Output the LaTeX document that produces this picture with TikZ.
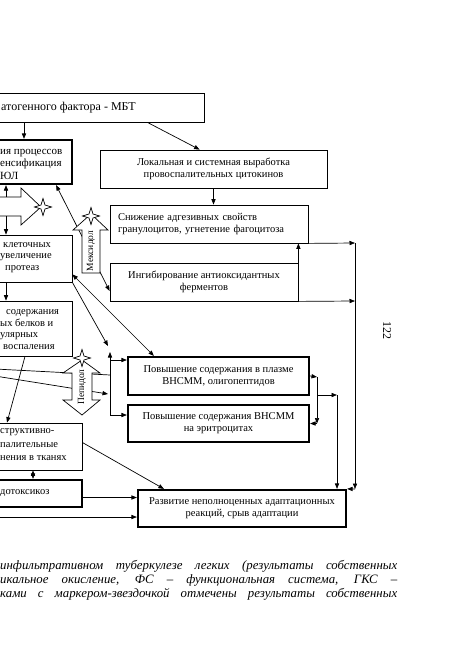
\documentclass[tikz,border=0pt]{standalone}
\usepackage{fontspec}
\setmainfont{Liberation Serif}
\usetikzlibrary{arrows.meta, calc, shapes.geometric}

\begin{document}
\begin{tikzpicture}[
  x=1pt, y=-1pt,
  font=\fontsize{10.5}{12}\selectfont,
  >={Triangle[length=5.5pt,width=4.2pt]},
  box/.style={draw, line width=0.8pt, inner sep=2pt, align=center},
  boldbox/.style={box, line width=2.2pt},
  frag/.style={anchor=west, inner sep=0pt, align=left},
  edge/.style={->, line width=0.7pt},
  dedge/.style={<->, line width=0.7pt},
  plain/.style={line width=0.7pt},
  drug/.style={draw, fill=white, line width=0.7pt},
  sparkle/.style={star, star points=4, star point ratio=3, draw, fill=white,
                  line width=0.7pt, minimum size=17pt, inner sep=0pt},
  drugname/.style={rotate=90, font=\fontsize{9.5}{10}\selectfont, inner sep=0pt},
  captext/.style={anchor=west, inner sep=0pt, font=\fontsize{12.8}{14}\selectfont\itshape},
]
\useasboundingbox (0,0) rectangle (460,650);
\clip (0,0) rectangle (460,650);

% boxes
\node[box, minimum width=264, minimum height=29] (top) at (72,107.5) {};
\node[frag, font=\fontsize{12}{14}\selectfont] (topt) at (1,107.5) {атогенного фактора - МБТ};
\node[boldbox, minimum width=132, minimum height=44] (pol) at (6,162) {};
\node[frag, font=\fontsize{11}{12.5}\selectfont] (polt) at (0,164) {ия процессов\\енсификация\\ЮЛ};
\node[box, minimum width=227, minimum height=38] (loc) at (213.5,169)
  {Локальная и системная выработка\\провоспалительных цитокинов};
\node[box, align=left, text width=182, inner xsep=8pt, minimum height=38] (adh) at (209,224)
  {Снижение адгезивных свойств\\гранулоцитов, угнетение фагоцитоза};
\node[box, minimum width=188, minimum height=38] (inh) at (204,282)
  {Ингибирование антиоксидантных\\ферментов};
\node[box, minimum width=132, minimum height=47] (cell) at (6,258.5) {};
\node[frag, font=\fontsize{10.5}{11.5}\selectfont] (cellt) at (0,257.5)
  {\hspace{3pt}клеточных\\увеличение\\\hspace{5pt}протеаз};
\node[box, minimum width=132, minimum height=55] (cont) at (6,328.5) {};
\node[frag, font=\fontsize{10.5}{11.7}\selectfont] (contt) at (0,329.5)
  {\hspace{6pt}содержания\\ых белков и\\улярных\\\hspace{3pt}воспаления};
\node[boldbox, minimum width=181, minimum height=38] (plasma) at (218.5,376)
  {Повышение содержания в плазме\\ВНСММ, олигопептидов};
\node[boldbox, minimum width=181, minimum height=37] (ery) at (218.5,423.5)
  {Повышение содержания ВНСММ\\на эритроцитах};
\node[box, minimum width=142, minimum height=47] (destr) at (11,446.5) {};
\node[frag, font=\fontsize{10.5}{13.5}\selectfont] (destrt) at (0,445)
  {структивно-\\палительные\\нения в тканях};
\node[boldbox, minimum width=142, minimum height=27] (endo) at (11,493.5) {};
\node[frag] (endot) at (0,493.5) {дотоксикоз};
\node[boldbox, minimum width=208, minimum height=37] (final) at (242,508.5)
  {Развитие неполноценных адаптационных\\реакций, срыв адаптации};

% named points
\coordinate (a1) at ($(pol.north)+(18,0)$);
\coordinate (a2) at ($(top.south east)+(-57,0)$);
\coordinate (a3) at ($(loc.north west)+(100,0)$);
\coordinate (R1) at (355,243);
\coordinate (R2) at (355,301);
\coordinate (R3) at (355,489);
\coordinate (M1) at (317,377);
\coordinate (M2) at (317,423.5);
\coordinate (M4) at (317,395);
\coordinate (M5) at (337,395);
\coordinate (cTop) at (110,352);
\coordinate (cP) at (110,360);
\coordinate (cBot) at (110,415);
\coordinate (cIn1) at (110,375);
\coordinate (cIn2) at (108,394);
\coordinate (cIn3) at (108,346);
\coordinate (in1) at (-5,369);
\coordinate (in2) at (-5,376);
\coordinate (pol1) at ($(pol.south east)+(-17,0)$);
\coordinate (inh1) at ($(inh.west)+(0,9)$);
\coordinate (cell1) at ($(cell.south east)+(0,-8)$);
\coordinate (pl1) at ($(plasma.north west)+(27,0)$);
\coordinate (ar1) at (6,197);
\coordinate (ar2) at (6,216);
\coordinate (d1) at ($(cont.south)+(19,0)$);
\coordinate (d2) at ($(destr.north)+(-4,0)$);
\coordinate (d3) at ($(destr.south)+(22,0)$);
\coordinate (d4) at ($(destr.east)+(0,-4)$);
\coordinate (f1) at ($(final.north west)+(27,0)$);
\coordinate (E1) at ($(endo.east)+(0,4)$);
\coordinate (E2) at (-5,517);

% connectors
\draw[edge] (a1 |- top.south) -- (a1);
\draw[edge] (a2) -- (a3);
\draw[edge] (loc.south) -- (loc.south |- adh.north);
\draw[edge] (adh.south east) -- (R1);
\draw[edge] (inh.south east) -- (R2);
\draw[edge] (inh.south east) -- (inh.south east |- adh.south);
\draw[edge] (R1) -- (R3);
\draw[edge] (R3) -- (final.north east);
\draw[edge] (plasma.east) -- (M1);
\draw[edge] (M1) -- (M2);
\draw[edge] (M2) -- (M2 -| ery.east);
\draw[edge] (M4) -- (M5);
\draw[edge] (M5) -- (M5 |- final.north);
\draw[edge] (cBot) -- (cTop);
\draw[edge] (cP) -- (cP -| plasma.west);
\draw[edge] (cBot) -- (cBot -| ery.west);
\draw[plain] (in1) -- (cIn1);
\draw[edge] (in2) -- (cIn2);
\draw[edge] (cell.south east) -- (cIn3);
\draw[dedge] (cell1) -- (pl1);
\draw[dedge] (pol1) -- (inh1);
\draw[edge] (cell.south) -- (cont.north);
\draw[edge] (d1) -- (d2);
\draw[dedge] (d3) -- (d3 |- endo.north);
\draw[edge] (d4) -- (f1);
\draw[edge] (E1) -- (E1 -| final.west);
\draw[edge] (E2) -- (E2 -| final.west);

% drug arrows
\draw[drug] (-20,197) -- (21,197) -- (21,188) -- (41,207) -- (21,225)
  -- (21,216) -- (-20,216);
\node[sparkle] (st1) at (43,207) {};
\draw[edge] (ar1) -- (pol.south);
\draw[edge] (ar2) -- (cell.north);

\draw[drug] (82,273) -- (82,230) -- (73,230) -- (91,214) -- (108,230)
  -- (100,230) -- (100,273) -- cycle;
\node[sparkle] (st2) at (91,216) {};
\node[drugname] (mex) at (91,251) {Мексидол};

\draw[drug] (82,360) -- (100,373) -- (92,373) -- (92,400) -- (100,400)
  -- (82,415) -- (63,400) -- (72,400) -- (72,373) -- (63,373) -- cycle;
\node[sparkle] (st3) at (82,358) {};
\node[drugname] (pep) at (82,387) {Пепидол};

% page number and caption
\node[rotate=-90, font=\fontsize{12}{14}\selectfont] (pnum) at (387,330) {122};
\node[captext] (cap1) at (0,566)
  {\makebox[397pt][s]{инфильтративном туберкулезе легких (результаты собственных}};
\node[captext] (cap2) at (0,580)
  {\makebox[397pt][s]{икальное окисление, ФС – функциональная система, ГКС –}};
\node[captext] (cap3) at (0,594)
  {\makebox[397pt][s]{ками с маркером-звездочкой отмечены результаты собственных}};
\end{tikzpicture}
\end{document}
